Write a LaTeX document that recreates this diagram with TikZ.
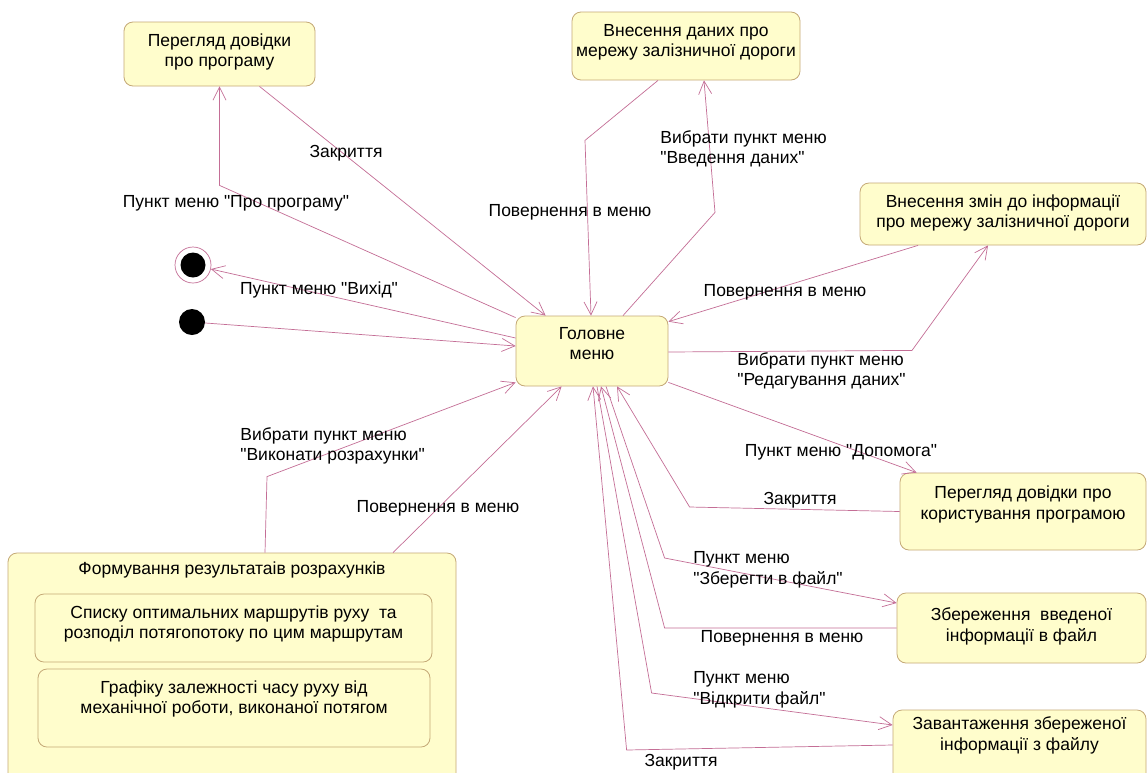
\documentclass[tikz,border=0pt]{standalone}
\usepackage{fontspec}
\newfontfamily\uifont{Liberation Sans}
\usepackage{xcolor}
\usetikzlibrary{arrows.meta, calc, fit}

\definecolor{trline}{RGB}{196,110,150}
\definecolor{stline}{RGB}{196,168,118}
\definecolor{stfill}{RGB}{255,253,204}
\newcommand{\dfont}{\uifont\fontsize{17.5}{20.5}\selectfont}

\begin{document}
\begin{tikzpicture}[
    x=1pt, y=-1pt,
    state/.style={draw=stline, fill=stfill, rounded corners=9pt, inner sep=0pt, line width=0.8pt},
    stxt/.style={anchor=north, align=center, font=\dfont, inner sep=0pt, yshift=-#1, execute at begin node=\strut},
    stxt/.default=12pt,
    tr/.style={draw=trline, line width=0.7pt, -{Straight Barb[length=13pt, width=13pt]}},
    lb/.style={font=\dfont, inner sep=0pt},
    lbw/.style={lb, anchor=west, align=left},
    initst/.style={circle, fill=black, minimum size=26pt, inner sep=0pt},
    finalst/.style={circle, draw=trline, line width=0.7pt, minimum size=36pt, inner sep=0pt,
        path picture={\fill[black] (path picture bounding box.center) circle (12.5pt);}}
]
\useasboundingbox (0,0) rectangle (1148,772);
\clip (0,0) rectangle (1148,772);
\fill[white] (0,0) rectangle (1148,772);

% States
\node[state, fit={(124,22) (315,86)}, label={[stxt]north:{Перегляд довідки\\про програму}}] (about) {};
\node[state, fit={(572,12) (800,80)}, label={[stxt=12.5pt]north:{Внесення даних про\\мережу залізничної дороги}}] (datain) {};
\node[state, fit={(860,183) (1146,245)}, label={[stxt]north:{Внесення змін до інформації\\про мережу залізничної дороги}}] (edit) {};
\node[state, fit={(516,316) (668,386)}, label={[stxt=11.5pt]north:{Головне\\меню}}] (menu) {};
\node[state, fit={(900,473) (1146,550)}, label={[stxt=13.5pt]north:{Перегляд довідки про\\користування програмою}}] (helpuse) {};
\node[state, fit={(897,593) (1146,663)}, label={[stxt=15pt]north:{Збереження\ \ введеної\\інформації в файл}}] (save) {};
\node[state, fit={(893,710) (1146,785)}, label={[stxt=7pt]north:{Завантаження збереженої\\інформації з файлу}}] (load) {};

% Composite state
\node[state, fit={(8,553) (456,790)}, label={[stxt=7pt]north:{Формування результатаів розрахунків}}] (result) {};
\node[state, fit={(35,594) (432,662)}, label={[stxt]north:{Списку оптимальних маршрутів руху\ \ та\\розподіл потягопотоку по цим маршрутам}}] (routes) {};
\node[state, fit={(38,669) (430,747)}, label={[stxt]north:{Графіку залежності часу руху від\\механічної роботи, виконаної потягом}}] (graph) {};

% Initial and final
\node[finalst] (final) at (193,265) {};
\node[initst] (init) at (192,322) {};

% Transitions
\draw[tr] ($(menu.north west)+(0,2)$) -- ($(about.south)+(0,99)$) -- (about.south)
    node[lb] at (236,203) {Пункт меню "Про програму"};
\draw[tr] ($(about.south)+(40,0)$) -- ($(menu.north west)+(30,0)$)
    node[lb] at (346,153) {Закриття};
\draw[tr] ($(datain.south)+(-28,0)$) -- ($(datain.south)+(-101,60)$) -- ($(menu.north)+(-1,0)$)
    node[lb] at (570,212) {Повернення в меню};
\draw[tr] ($(menu.north)+(31,0)$) -- ($(datain.south)+(29,132)$) -- ($(datain.south)+(18,0)$)
    node[lbw] at (660,149) {Вибрати пункт меню\\"Введення даних"};
\draw[tr] ($(edit.south)+(-85,0)$) -- ($(menu.north east)+(0,6)$)
    node[lb] at (785,292) {Повернення в меню};
\draw[tr] ($(menu.east)+(0,1)$) -- ($(edit.south)+(-91,105)$) -- ($(edit.south)+(-15,0)$)
    node[lbw] at (737,371) {Вибрати пункт меню\\"Редагування даних"};
\draw[tr] ($(menu.west)+(0,-13)$) -- (final)
    node[lb] at (319,290) {Пункт меню "Вихід"};
\draw[tr] (init) -- ($(menu.west)+(0,-5)$);
\draw[tr] ($(result.north)+(33,0)$) -- ($(result.north)+(35,-76)$) -- ($(menu.south west)+(0,-4)$)
    node[lbw] at (240,446) {Вибрати пункт меню\\"Виконати розрахунки"};
\draw[tr] ($(result.north)+(161,0)$) -- ($(menu.south west)+(46,0)$)
    node[lb] at (438,508) {Повернення в меню};
\draw[tr] ($(menu.south east)+(0,-4)$) -- ($(helpuse.north west)+(17,0)$)
    node[lb] at (841,452) {Пункт меню "Допомога"};
\draw[tr] (helpuse.west) -- ($(helpuse.west)+(-210,-4.5)$) -- ($(menu.south)+(25,0)$)
    node[lb] at (800,500) {Закриття};
\draw[tr] ($(menu.south)+(14,0)$) -- ($(save.west)+(-232,-70)$) -- ($(save.west)+(0,-25)$)
    node[lbw] at (693,570) {Пункт меню\\"Зберегти в файл"};
\draw[tr] (save.west) -- ($(save.west)+(-232,0)$) -- ($(menu.south)+(9,0)$)
    node[lb] at (782,638) {Повернення в меню};
\draw[tr] ($(menu.south)+(5,0)$) -- ($(load.west)+(-241,-54.5)$) -- ($(load.west)+(0,-22.5)$)
    node[lbw] at (693,690) {Пункт меню\\"Відкрити файл"};
\draw[tr] ($(load.west)+(0,-2.5)$) -- ($(load.west)+(-266,2.5)$) -- ($(menu.south)+(1,0)$)
    node[lb] at (681,762) {Закриття};

\end{tikzpicture}
\end{document}
